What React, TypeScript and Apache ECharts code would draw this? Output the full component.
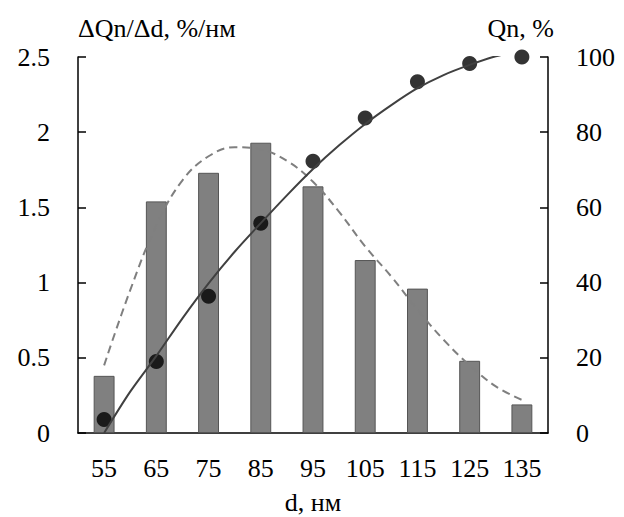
import React, { useEffect, useRef } from "react";
import * as echarts from "echarts";

const categories = ["55", "65", "75", "85", "95", "105", "115", "125", "135"];
const barValues = [0.38, 1.54, 1.73, 1.93, 1.64, 1.15, 0.96, 0.48, 0.19];
const pointValues = [3.6, 19.0, 36.4, 55.8, 72.3, 83.8, 93.4, 98.3, 100];

const curveX = [55, 60, 65, 70, 75, 80, 85, 90, 95, 100, 105, 110, 115, 120, 125, 130, 135];
const trendValues = [0, 11, 20.5, 30.5, 39.8, 48.2, 55.8, 63.2, 70.2, 76.5, 82.2, 87.2, 91.7, 95.2, 97.9, 100.2, 101.5];
const densityValues = [0.45, 0.95, 1.38, 1.68, 1.84, 1.9, 1.885, 1.81, 1.67, 1.47, 1.24, 1.04, 0.82, 0.62, 0.45, 0.31, 0.22];

const leftTicks = ["0", "0.5", "1", "1.5", "2", "2.5"];

const FONT = "'Liberation Serif', 'Times New Roman', serif";

export default function App() {
  const ref = useRef<HTMLDivElement>(null);
  useEffect(() => {
    if (!ref.current) return;
    const chart = echarts.init(ref.current, undefined, { renderer: "svg" });
    const textStyle = { fontFamily: FONT, fontSize: 26, color: "#000" };
    chart.setOption({
      animation: false,
      backgroundColor: "#fff",
      textStyle: { fontFamily: FONT },
      grid: { left: 78, right: 76, top: 57, bottom: 84, containLabel: false, outerBoundsMode: "none" },
      xAxis: [
        {
          type: "category",
          data: categories,
          name: "d, нм",
          nameLocation: "middle",
          nameGap: 56,
          nameTextStyle: textStyle,
          axisLine: { lineStyle: { color: "#000", width: 1.5 } },
          axisTick: { inside: true, length: 8, lineStyle: { color: "#000", width: 1.5 } },
          axisLabel: { ...textStyle, margin: 22 },
        },
        {
          type: "value",
          min: 50,
          max: 140,
          show: false,
        },
      ],
      yAxis: [
        {
          type: "value",
          min: 0,
          max: 2.5,
          interval: 0.5,
          name: "ΔQn/Δd, %/нм",
          nameLocation: "end",
          nameGap: 16,
          nameTextStyle: { ...textStyle, align: "left", padding: [0, 0, 0, 0] },
          axisLine: { show: true, lineStyle: { color: "#000", width: 1.5 } },
          axisTick: { show: true, inside: true, length: 8, lineStyle: { color: "#000", width: 1.5 } },
          axisLabel: {
            ...textStyle,
            margin: 28,
            formatter: (v: number) => leftTicks[Math.round(v / 0.5)] ?? String(v),
          },
          splitLine: { show: false },
        },
        {
          type: "value",
          min: 0,
          max: 100,
          interval: 20,
          name: "Qn, %",
          nameLocation: "end",
          nameGap: 16,
          nameTextStyle: { ...textStyle, align: "right", padding: [0, -6, 0, 0] },
          axisLine: { show: true, lineStyle: { color: "#000", width: 1.5 } },
          axisTick: { show: true, inside: true, length: 8, lineStyle: { color: "#000", width: 1.5 } },
          axisLabel: { ...textStyle, margin: 28 },
          splitLine: { show: false },
        },
      ],
      series: [
        {
          type: "bar",
          data: barValues,
          xAxisIndex: 0,
          yAxisIndex: 0,
          barWidth: "40%",
          itemStyle: { color: "#808080", borderColor: "#555555", borderWidth: 1 },
        },
        {
          type: "line",
          xAxisIndex: 1,
          yAxisIndex: 0,
          data: curveX.map((x, i) => [x, densityValues[i]]),
          smooth: 0.4,
          showSymbol: false,
          lineStyle: { color: "#7f7f7f", width: 2, type: [8, 5] },
        },
        {
          type: "line",
          xAxisIndex: 1,
          yAxisIndex: 1,
          data: curveX.map((x, i) => [x, trendValues[i]]),
          smooth: 0.3,
          showSymbol: false,
          clip: true,
          lineStyle: { color: "#404040", width: 2 },
        },
        {
          type: "scatter",
          xAxisIndex: 0,
          yAxisIndex: 1,
          data: pointValues,
          symbolSize: 15,
          itemStyle: { color: "#000" },
        },
      ],
    });
    return () => chart.dispose();
  }, []);
  return <div ref={ref} style={{ width: 624, height: 517, position: "absolute", left: 0, top: 0 }} />;
}
